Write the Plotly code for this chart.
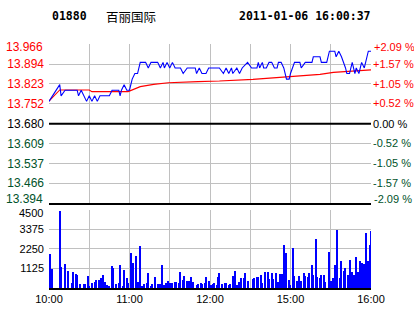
import plotly.graph_objects as go

# ---- data ----
prev_close = 13.680
price_ticks = [13.394, 13.466, 13.537, 13.609, 13.680, 13.752, 13.823, 13.894, 13.966]
price_tick_text = ["13.394", "13.466", "13.537", "13.609", "13.680", "13.752", "13.823", "13.894", "13.966"]
pct_tick_text = ["-2.09 %", "-1.57 %", "-1.05 %", "-0.52 %", "0.00 %", "+0.52 %", "+1.05 %", "+1.57 %", "+2.09 %"]

vol_ticks = [0, 1125, 2250, 3375, 4500]
vol_tick_text = ["", "1125", "2250", "3375", "4500"]

time_ticks = [0, 30, 60, 90, 120, 150, 180, 210, 240]
time_tick_text = ["10:00", "", "11:00", "", "12:00", "", "15:00", "", "16:00"]

# minutes since open (10:00, lunch break removed)
price_min = [0, 8, 9, 12, 21, 22, 24, 26, 28, 30, 32, 34, 36, 38, 45, 47, 52, 53, 54, 56, 58, 60,
             62, 64, 66, 68, 72, 74, 76, 81, 83, 85, 86, 88, 90, 92, 94, 98, 100, 103, 109, 110,
             112, 114, 117, 119, 127, 130, 132, 134, 136, 137, 140, 142, 144, 148, 151, 155, 156,
             157, 159, 160, 162, 164, 166, 168, 170, 171, 173, 175, 176, 177, 179, 180, 183, 187,
             188, 191, 196, 197, 202, 203, 207, 209, 213, 214, 216, 218, 221, 222, 224, 226, 228,
             229, 231, 233, 235, 236, 238, 240]
price_val = [13.76, 13.82, 13.78, 13.80, 13.80, 13.78, 13.80, 13.78, 13.76, 13.78, 13.76, 13.78,
             13.76, 13.78, 13.78, 13.80, 13.80, 13.78, 13.80, 13.82, 13.80, 13.80,
             13.84, 13.86, 13.86, 13.90, 13.90, 13.88, 13.90, 13.90, 13.88, 13.90, 13.88, 13.90,
             13.88, 13.90, 13.88, 13.88, 13.86, 13.88, 13.88, 13.86,
             13.88, 13.86, 13.86, 13.88, 13.88, 13.86, 13.88, 13.86, 13.88, 13.86, 13.88, 13.86,
             13.88, 13.90, 13.88, 13.88, 13.90,
             13.88, 13.90, 13.88, 13.88, 13.90, 13.90, 13.88, 13.88, 13.90, 13.90, 13.88, 13.86,
             13.84, 13.84, 13.86, 13.90, 13.90,
             13.88, 13.90, 13.90, 13.92, 13.92, 13.90, 13.90, 13.94, 13.94, 13.92, 13.94, 13.92,
             13.88, 13.86, 13.86, 13.90, 13.86,
             13.88, 13.86, 13.90, 13.88, 13.90, 13.94, 13.94]

avg_min = [0, 8, 30, 32, 59, 63, 68, 78, 89, 111, 127, 152, 177, 202, 212, 240]
avg_val = [13.761, 13.801, 13.801, 13.795, 13.795, 13.803, 13.813, 13.821, 13.827, 13.831,
           13.833, 13.839, 13.848, 13.857, 13.864, 13.873]

vol_min = [1, 2, 8, 9, 12, 14, 17, 18, 20, 21, 23, 26, 27, 29, 30, 32, 34, 35, 37, 39, 40, 42, 43,
           45, 47, 48, 50, 52, 53, 55, 56, 58, 59, 61, 63, 65, 66, 68, 69, 71, 73, 74, 76, 77, 79,
           81, 83, 84, 86, 87, 89, 90, 92, 94, 95, 97, 98, 100, 101, 103, 104, 106, 107, 110, 111,
           113, 114, 116, 117, 119, 121, 122, 123, 125, 126, 127, 129, 131, 132, 134, 135, 137,
           139, 140, 142, 143, 145, 146, 148, 152, 153, 155, 156, 158, 159, 161, 163, 164, 166,
           167, 169, 171, 172, 174, 175, 177, 179, 180, 182, 183, 185, 186, 188, 190, 191, 193,
           194, 196, 197, 199, 200, 202, 203, 205, 206, 209, 210, 212, 213, 215, 217, 218, 220,
           221, 223, 224, 226, 227, 229, 230, 232, 233, 235, 236, 238, 239, 240]
vol_val = [1970, 1110, 4430, 1220, 1390, 990, 310, 940, 820, 760, 250, 250, 250, 710, 130, 310,
           360, 480, 480, 590, 760, 360, 190, 130, 1280, 1160, 250, 310, 1340, 130, 1050, 590,
           310, 2020, 1450, 1850, 360, 2420, 130, 250, 310, 880, 130, 250, 650, 250, 250, 1340,
           190, 310, 420, 310, 310, 360, 360, 310, 940, 480, 710, 420, 420, 650, 360, 190, 250,
           310, 250, 310, 650, 420, 190, 250, 310, 190, 650, 880, 250, 310, 310, 190, 250, 710,
           990, 190, 360, 590, 590, 880, 420, 530, 590, 650, 650, 760, 310, 940, 940, 530, 880,
           530, 880, 360, 820, 820, 2480, 2020, 480, 190, 2310, 710, 420, 710, 420, 880, 710, 650,
           880, 1340, 760, 2820, 650, 590, 760, 760, 360, 2080, 420, 590, 1340, 3340, 590, 1570,
           990, 1160, 760, 1620, 940, 760, 1790, 940, 1570, 1450, 1390, 3170, 1570, 2480, 3280]

RED = "#FF0000"
GREEN = "#00522A"
GRID = "#C0C0C0"


def color_for(v):
    if abs(v - prev_close) < 1e-6:
        return "#000000"
    return RED if v > prev_close else GREEN


def colored(texts, vals, skip_edges=True):
    out = []
    for i, (t, v) in enumerate(zip(texts, vals)):
        if skip_edges and (i == 0 or i == len(vals) - 1):
            out.append("")  # edge labels drawn as nudged annotations below
        else:
            out.append(f"<span style='color:{color_for(v)}'>{t}</span>")
    return out


fig = go.Figure()

fig.add_trace(go.Scatter(x=avg_min, y=avg_val, mode="lines", line=dict(color=RED, width=1.1),
                         xaxis="x", yaxis="y", showlegend=False, hoverinfo="skip"))
fig.add_trace(go.Scatter(x=price_min, y=price_val, mode="lines", line=dict(color="#0000FF", width=1.1),
                         xaxis="x", yaxis="y3", showlegend=False, hoverinfo="skip"))
fig.add_trace(go.Bar(x=vol_min, y=vol_val, width=0.8, marker=dict(color="#0000FF", line=dict(width=0)),
                     xaxis="x2", yaxis="y2", showlegend=False, hoverinfo="skip"))

P_LO, P_HI = 0.347, 1.0
V_LO, V_HI = 0.0, 0.321

# edge tick labels, nudged inside their panels like the reference
edge_ann = []
for idx, dy in ((len(price_ticks) - 1, -3), (0, 4)):
    v = price_ticks[idx]
    edge_ann.append(dict(text=price_tick_text[idx], xref="paper", yref="y", x=0, y=v,
                         xanchor="right", yanchor="middle", xshift=-4, yshift=dy, showarrow=False,
                         font=dict(size=12, color=color_for(v))))
    edge_ann.append(dict(text=pct_tick_text[idx], xref="paper", yref="y", x=1, y=v,
                         xanchor="left", yanchor="middle", xshift=1, yshift=dy, showarrow=False,
                         font=dict(size=11, color=color_for(v))))
edge_ann.append(dict(text=vol_tick_text[-1], xref="paper", yref="y2", x=0, y=vol_ticks[-1],
                     xanchor="right", yanchor="middle", xshift=-4, yshift=-3.5, showarrow=False,
                     font=dict(size=11, color="black")))
vol_tick_text_axis = vol_tick_text[:-1] + [""]

fig.update_layout(
    width=414, height=314,
    margin=dict(l=49, r=43, t=44, b=26, pad=0, autoexpand=False),
    paper_bgcolor="white", plot_bgcolor="white",
    font=dict(family="Liberation Sans, Arial, sans-serif", size=11, color="black"),
    bargap=0,
    xaxis=dict(domain=[0, 1], anchor="y", range=[0, 240], tickvals=time_ticks,
               showticklabels=False, ticks="", showgrid=True, gridcolor=GRID, gridwidth=1,
               zeroline=False, showline=True, linecolor="black", linewidth=2, automargin=False),
    yaxis=dict(domain=[P_LO, P_HI], anchor="x", range=[price_ticks[0], price_ticks[-1]],
               tickvals=price_ticks, ticktext=colored(price_tick_text, price_ticks),
               ticks="", ticklabelstandoff=4, tickfont=dict(size=12), automargin=False,
               showgrid=True, gridcolor=GRID, gridwidth=1, zeroline=False, showline=False),
    yaxis3=dict(overlaying="y", side="right", anchor="x", range=[price_ticks[0], price_ticks[-1]],
                tickvals=price_ticks, ticktext=colored(pct_tick_text, price_ticks),
                ticks="", ticklabelstandoff=1, tickfont=dict(size=11), automargin=False,
                showgrid=False, zeroline=False, showline=False),
    xaxis2=dict(domain=[0, 1], anchor="y2", range=[0, 240], tickvals=time_ticks,
                ticktext=time_tick_text, ticks="", showgrid=True, gridcolor=GRID, gridwidth=1,
                zeroline=False, showline=True, linecolor="black", linewidth=2,
                tickfont=dict(size=11), automargin=False),
    yaxis2=dict(domain=[V_LO, V_HI], anchor="x2", range=[0, 4500], tickvals=vol_ticks,
                ticktext=vol_tick_text_axis, ticks="", ticklabelstandoff=4, automargin=False,
                showgrid=True, gridcolor=GRID, gridwidth=1, zeroline=False, showline=False),
    shapes=[dict(type="line", xref="x", yref="y", x0=0, x1=240, y0=prev_close, y1=prev_close,
                 line=dict(color="black", width=2))],
    annotations=[
        dict(text="<b>01880</b>", xref="paper", yref="paper", x=(50 - 49) / 322, y=(288 - 16) / 244,
             xanchor="left", yanchor="middle", showarrow=False,
             font=dict(family="DejaVu Sans Mono", size=11.5, color="black")),
        dict(text="百丽国际", xref="paper", yref="paper", x=(104 - 49) / 322, y=(288 - 16) / 244,
             xanchor="left", yanchor="middle", showarrow=False,
             font=dict(family="Noto Sans CJK SC", size=12.5, color="black")),
        dict(text="<b>2011-01-06 16:00:37</b>", xref="paper", yref="paper", x=(237 - 49) / 322,
             y=(288 - 16) / 244, xanchor="left", yanchor="middle", showarrow=False,
             font=dict(family="DejaVu Sans Mono", size=11.5, color="black")),
    ] + edge_ann,
)

fig.write_html("out.html")
